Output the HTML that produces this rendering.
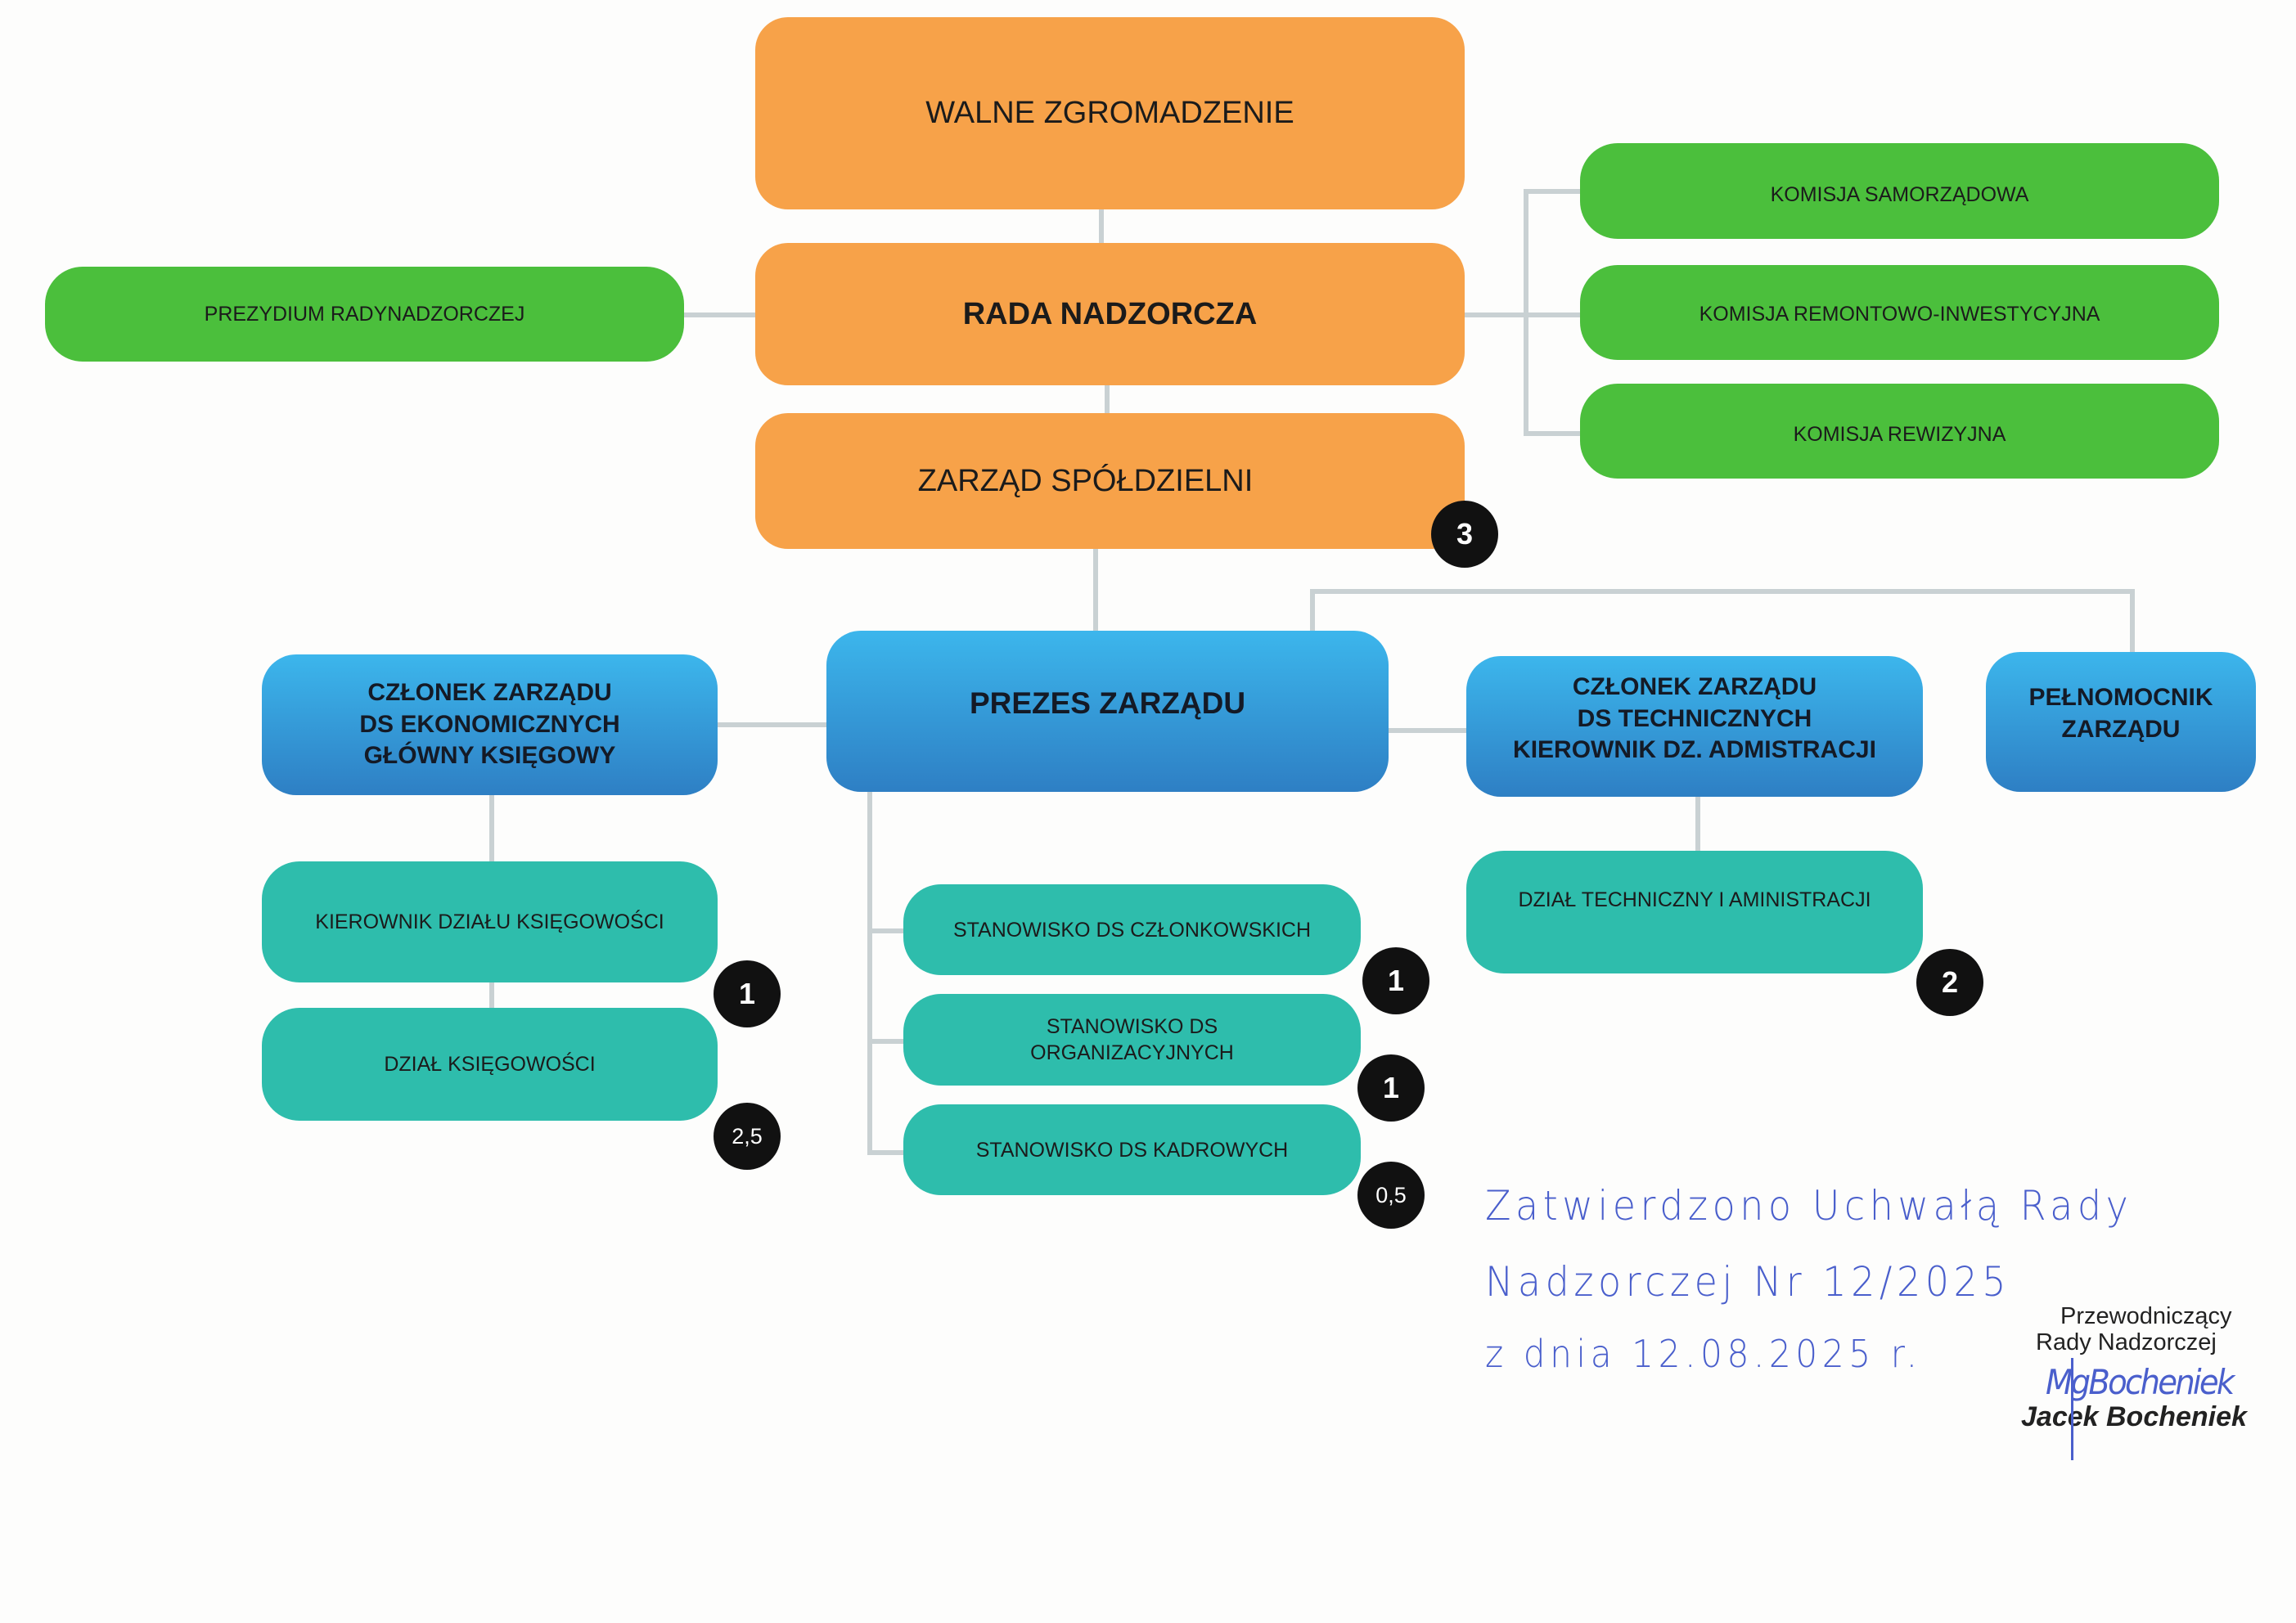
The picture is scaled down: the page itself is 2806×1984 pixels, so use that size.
<!DOCTYPE html>
<html><head><meta charset="utf-8"><style>
body{margin:0;width:2806px;height:1984px;background:#fdfdfc;position:relative;overflow:hidden;font-family:"Liberation Sans",sans-serif}
.b{position:absolute;display:flex;align-items:center;justify-content:center;text-align:center;color:#1b1b1b;box-sizing:border-box;line-height:1.28}
.o{background:#f7a249;border-radius:40px;font-size:38px}
.g{background:#4bbf3c;border-radius:46px;font-size:25px}
.bl{background:linear-gradient(#3cb6ec,#2e7fc4);border-radius:42px;font-size:30px;font-weight:bold;color:#141a26}
.t{background:#2ebdac;border-radius:46px;font-size:25px}
.l{position:absolute;background:#c9d1d3}
.c{position:absolute;width:82px;height:82px;border-radius:50%;background:#111;color:#fff;display:flex;align-items:center;justify-content:center;font-size:36px;font-weight:bold}
.c.s{font-size:27px;font-weight:normal}
.h{position:absolute;color:#4a5fcc;font-family:"DejaVu Sans","Liberation Sans",sans-serif;font-weight:200;font-size:50px;white-space:nowrap;letter-spacing:3px;transform:scaleX(0.92);transform-origin:left}
.p{position:absolute;font-size:29px;color:#222;white-space:nowrap}
</style></head><body>
<div class="l" style="left:1343px;top:250px;width:6px;height:55px"></div>
<div class="l" style="left:1350px;top:465px;width:6px;height:45px"></div>
<div class="l" style="left:830px;top:382px;width:98px;height:6px"></div>
<div class="l" style="left:1785px;top:382px;width:83px;height:6px"></div>
<div class="l" style="left:1862px;top:231px;width:6px;height:302px"></div>
<div class="l" style="left:1862px;top:231px;width:75px;height:6px"></div>
<div class="l" style="left:1862px;top:382px;width:75px;height:6px"></div>
<div class="l" style="left:1862px;top:527px;width:75px;height:6px"></div>
<div class="l" style="left:1336px;top:665px;width:6px;height:110px"></div>
<div class="l" style="left:1601px;top:720px;width:1008px;height:6px"></div>
<div class="l" style="left:1601px;top:720px;width:6px;height:55px"></div>
<div class="l" style="left:2603px;top:720px;width:6px;height:82px"></div>
<div class="l" style="left:872px;top:883px;width:142px;height:6px"></div>
<div class="l" style="left:1692px;top:890px;width:104px;height:6px"></div>
<div class="l" style="left:598px;top:968px;width:6px;height:268px"></div>
<div class="l" style="left:1060px;top:964px;width:6px;height:448px"></div>
<div class="l" style="left:1060px;top:1135px;width:48px;height:6px"></div>
<div class="l" style="left:1060px;top:1270px;width:48px;height:6px"></div>
<div class="l" style="left:1060px;top:1406px;width:48px;height:6px"></div>
<div class="l" style="left:2072px;top:970px;width:6px;height:74px"></div>
<div class="b o" style="left:923px;top:21px;width:867px;height:235px">WALNE ZGROMADZENIE</div>
<div class="b o" style="left:923px;top:297px;width:867px;height:174px;font-weight:bold">RADA NADZORCZA</div>
<div class="b o" style="left:923px;top:505px;width:867px;height:166px;padding-right:60px">ZARZĄD SPÓŁDZIELNI</div>
<div class="b g" style="left:55px;top:326px;width:781px;height:116px">PREZYDIUM RADYNADZORCZEJ</div>
<div class="b g" style="left:1931px;top:175px;width:781px;height:117px;padding-top:8px">KOMISJA SAMORZĄDOWA</div>
<div class="b g" style="left:1931px;top:324px;width:781px;height:116px;padding-top:4px">KOMISJA REMONTOWO-INWESTYCYJNA</div>
<div class="b g" style="left:1931px;top:469px;width:781px;height:116px;padding-top:8px">KOMISJA REWIZYJNA</div>
<div class="b bl" style="left:1010px;top:771px;width:687px;height:197px;font-size:37px;padding-bottom:20px">PREZES ZARZĄDU</div>
<div class="b bl" style="left:320px;top:800px;width:557px;height:172px">CZŁONEK ZARZĄDU<br>DS EKONOMICZNYCH<br>GŁÓWNY KSIĘGOWY</div>
<div class="b bl" style="left:1792px;top:802px;width:558px;height:172px;padding-bottom:18px">CZŁONEK ZARZĄDU<br>DS TECHNICZNYCH<br>KIEROWNIK DZ. ADMISTRACJI</div>
<div class="b bl" style="left:2427px;top:797px;width:330px;height:171px;padding-bottom:20px">PEŁNOMOCNIK<br>ZARZĄDU</div>
<div class="b t" style="left:320px;top:1053px;width:557px;height:148px">KIEROWNIK DZIAŁU KSIĘGOWOŚCI</div>
<div class="b t" style="left:320px;top:1232px;width:557px;height:138px">DZIAŁ KSIĘGOWOŚCI</div>
<div class="b t" style="left:1104px;top:1081px;width:559px;height:111px">STANOWISKO DS CZŁONKOWSKICH</div>
<div class="b t" style="left:1104px;top:1215px;width:559px;height:112px">STANOWISKO DS<br>ORGANIZACYJNYCH</div>
<div class="b t" style="left:1104px;top:1350px;width:559px;height:111px">STANOWISKO DS KADROWYCH</div>
<div class="b t" style="left:1792px;top:1040px;width:558px;height:150px;padding-bottom:30px">DZIAŁ TECHNICZNY I AMINISTRACJI</div>
<div class="c" style="left:1749px;top:612px">3</div>
<div class="c" style="left:872px;top:1174px">1</div>
<div class="c s" style="left:872px;top:1348px">2,5</div>
<div class="c" style="left:1665px;top:1158px">1</div>
<div class="c" style="left:1659px;top:1289px">1</div>
<div class="c s" style="left:1659px;top:1420px">0,5</div>
<div class="c" style="left:2342px;top:1160px">2</div>
<div class="h" style="left:1815px;top:1445px;letter-spacing:6px">Zatwierdzono Uchwałą Rady</div>
<div class="h" style="left:1815px;top:1538px;letter-spacing:6px">Nadzorczej Nr 12/2025</div>
<div class="h" style="left:1815px;top:1628px;font-size:46px;letter-spacing:6px">z dnia 12.08.2025 r.</div>
<div class="p" style="left:2518px;top:1593px">Przewodniczący</div>
<div class="p" style="left:2488px;top:1625px">Rady Nadzorczej</div>
<div class="h" style="left:2500px;top:1665px;font-size:42px;letter-spacing:-3px;font-style:italic">MgBocheniek</div>
<div class="p" style="left:2470px;top:1713px;font-style:italic;font-weight:bold;font-size:34px">Jacek Bocheniek</div>
<div class="l" style="left:2531px;top:1660px;width:3px;height:125px;background:#4a5fcc"></div>
</body></html>
